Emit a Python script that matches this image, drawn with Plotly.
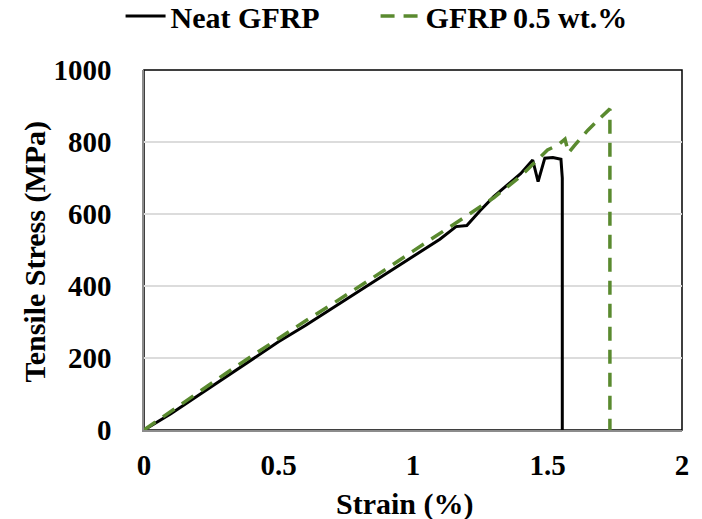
import plotly.graph_objects as go

# Data
neat_strain = [0, 0.1, 0.2, 0.3, 0.4, 0.5, 0.6, 0.7, 0.8, 0.9, 1.0, 1.1, 1.16, 1.2,
               1.25, 1.3, 1.35, 1.4, 1.445, 1.465, 1.49, 1.52, 1.55, 1.555, 1.555]
neat_stress = [0, 45, 95, 145, 195, 245, 290, 338, 385, 432, 480, 530, 565, 568,
               610, 648, 680, 712, 750, 690, 755, 757, 752, 700, 0]

gfrp_strain = [0, 0.1, 0.2, 0.3, 0.4, 0.5, 0.6, 0.7, 0.8, 0.9, 1.0, 1.1, 1.2, 1.3,
               1.4, 1.5, 1.54, 1.565, 1.578, 1.6, 1.65, 1.69, 1.732, 1.732]
gfrp_stress = [0, 52, 104, 155, 205, 255, 303, 350, 398, 447, 497, 545, 595, 645,
               705, 778, 792, 808, 770, 790, 833, 862, 892, 0]

x_ticks = [0, 0.5, 1, 1.5, 2]
x_tick_labels = ["0", "0.5", "1", "1.5", "2"]
y_ticks = [0, 200, 400, 600, 800, 1000]

FONT = "Liberation Serif, Times New Roman, serif"

fig = go.Figure()
fig.add_trace(go.Scatter(x=neat_strain, y=neat_stress, mode="lines", name="<b>Neat GFRP</b>",
                         line=dict(color="black", width=3)))
fig.add_trace(go.Scatter(x=gfrp_strain, y=gfrp_stress, mode="lines", name="<b>GFRP 0.5 wt.%</b>",
                         line=dict(color="#5a8a2f", width=3.5, dash="14px,9px")))

fig.add_shape(type="rect", xref="paper", yref="paper", x0=0, x1=1, y0=0, y1=1,
              line=dict(color="black", width=1.5), layer="below")

fig.update_layout(
    width=702, height=519,
    margin=dict(l=144, r=20, t=70, b=89, autoexpand=False),
    plot_bgcolor="white", paper_bgcolor="white",
    font=dict(family=FONT, size=29, color="black"),
    showlegend=True,
    legend=dict(orientation="h", x=0.535, xanchor="center", xref="container",
                y=1.222, yanchor="top", yref="paper",
                font=dict(family=FONT, size=30, color="black"),
                itemwidth=40, tracegroupgap=0, entrywidth=200, entrywidthmode="pixels"),
    xaxis=dict(range=[0, 2], tickvals=x_ticks, ticktext=[f"<b>{t}</b>" for t in x_tick_labels],
               showgrid=False, zeroline=False, showline=True, linecolor="#8c8c8c", linewidth=1.5,
               ticks="", ticklabelstandoff=8, tickfont=dict(family=FONT, size=29),
               automargin=False),
    yaxis=dict(range=[0, 1000], tickvals=y_ticks, ticktext=[f"<b>{v}</b>" for v in y_ticks],
               showgrid=True, gridcolor="#dcdcdc", gridwidth=1.5, zeroline=False,
               showline=True, linecolor="#8c8c8c", linewidth=1.5,
               ticks="", ticklabelstandoff=25, tickfont=dict(family=FONT, size=29),
               automargin=False),
)

fig.add_annotation(text="<b>Strain (%)</b>", xref="paper", yref="paper", x=0.485, y=-0.153,
                   xanchor="center", yanchor="top", showarrow=False,
                   font=dict(family=FONT, size=30, color="black"))
fig.add_annotation(text="<b>Tensile Stress (MPa)</b>", xref="paper", yref="paper",
                   x=-0.203, y=0.495, xanchor="center", yanchor="middle", textangle=-90,
                   showarrow=False, font=dict(family=FONT, size=30, color="black"))

fig.write_html("out.html", config={"displayModeBar": False})

# remove the default page margin so the figure fills the window exactly
with open("out.html", encoding="utf-8") as f:
    html = f.read()
html = html.replace("<body>", '<body style="margin:0;padding:0;">', 1)
with open("out.html", "w", encoding="utf-8") as f:
    f.write(html)
